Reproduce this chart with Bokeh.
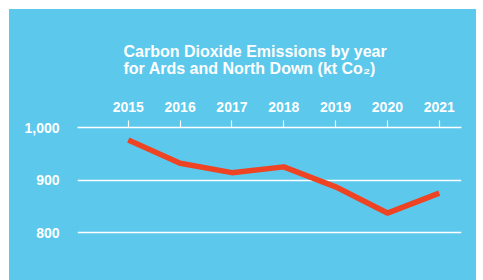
from bokeh.plotting import figure
from bokeh.models import FixedTicker, NumeralTickFormatter, Title, Range1d, Spacer
from bokeh.layouts import column, row
from bokeh.embed import file_html
from bokeh.resources import INLINE

years = [2015, 2016, 2017, 2018, 2019, 2020, 2021]
emissions = [976, 932, 914, 925, 887, 837, 875]
y_ticks = [800, 900, 1000]
title_text = "Carbon Dioxide Emissions by year\nfor Ards and North Down (kt Co\u2082)"

BLUE = "#5BC8EC"
RED = "#EF4423"
FONT = "Liberation Sans"

p = figure(width=467, height=271, output_backend="svg", toolbar_location=None,
           x_axis_location="above",
           x_range=Range1d(2014.02, 2021.43), y_range=Range1d(720, 1000),
           min_border_left=68, min_border_right=15, min_border_top=118, min_border_bottom=6)
p.background_fill_color = BLUE
p.border_fill_color = BLUE
p.outline_line_color = None
p.styles = {"background-color": BLUE}

p.line(years, emissions, line_color=RED, line_width=5.5, line_join="round", line_cap="butt")

xa = p.xaxis[0]
xa.ticker = FixedTicker(ticks=years)
xa.axis_line_color = "white"
xa.axis_line_width = 1.5
xa.major_tick_line_color = "white"
xa.major_tick_line_width = 1.2
xa.major_tick_out = 7
xa.major_tick_in = 0
xa.minor_tick_line_color = None
xa.major_label_text_color = "white"
xa.major_label_text_font = FONT
xa.major_label_text_font_style = "bold"
xa.major_label_text_font_size = "14px"
xa.major_label_standoff = 9

ya = p.yaxis[0]
ya.ticker = FixedTicker(ticks=y_ticks)
ya.formatter = NumeralTickFormatter(format="0,0")
ya.axis_line_color = None
ya.major_tick_line_color = None
ya.minor_tick_line_color = None
ya.major_label_text_color = "white"
ya.major_label_text_font = FONT
ya.major_label_text_font_style = "bold"
ya.major_label_text_font_size = "14px"
ya.major_label_standoff = 12

p.xgrid.grid_line_color = None
p.ygrid.grid_line_color = "white"
p.ygrid.grid_line_width = 1.5

t = Title(text=title_text, align="left", text_color="white", text_font=FONT,
          text_font_style="bold", text_font_size="16px",
          standoff=44, offset=46)
p.add_layout(t, "above")

layout = column(Spacer(height=9), row(Spacer(width=9), p))
open("out.html", "w").write(file_html(layout, INLINE))
